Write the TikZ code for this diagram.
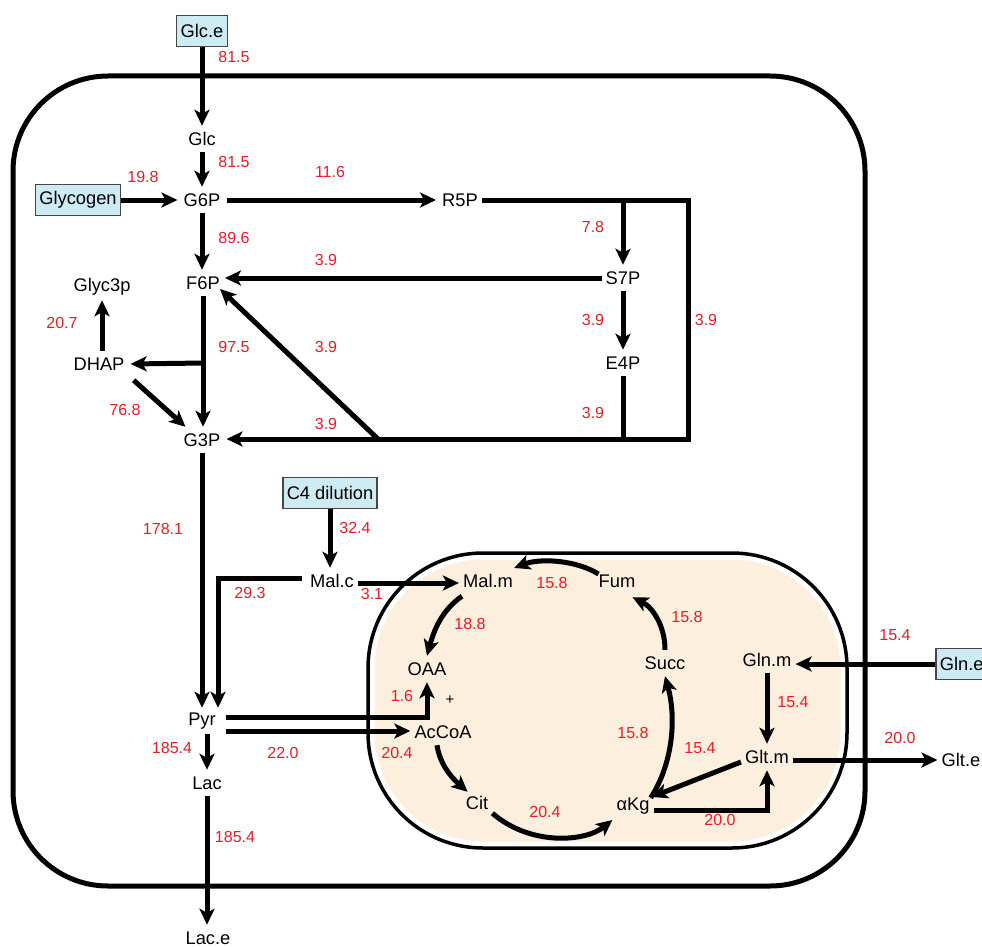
\documentclass[tikz,border=0pt]{standalone}
\usepackage{fontspec}
\setmainfont{Liberation Sans}
\usetikzlibrary{arrows.meta,calc}
\definecolor{fluxred}{RGB}{237,28,36}
\definecolor{boxblue}{RGB}{205,235,243}
\definecolor{boxgray}{RGB}{70,70,70}
\definecolor{mitofill}{RGB}{253,239,222}
\tikzset{
  met/.style={font=\fontsize{18.3}{20}\selectfont, inner xsep=4pt, inner ysep=0pt, minimum height=26pt},
  extbox/.style={draw=boxgray, fill=boxblue, line width=1.5pt, font=\fontsize{18.3}{20}\selectfont, inner xsep=4pt, inner ysep=0pt, minimum height=31pt},
  flux/.style={text=fluxred, font=\fontsize{16}{18}\selectfont, inner sep=0pt},
  arr/.style={line width=5pt, -{Stealth[length=16pt, width=15pt, inset=4pt]}},
  plainline/.style={line width=5pt},
}
\begin{document}
\begin{tikzpicture}[x=1pt,y=-1pt]
\useasboundingbox (0,0) rectangle (982,947);
% cell and mitochondrion
\draw[line width=5pt, rounded corners=95pt] (13,76) rectangle (865,886);
\draw[line width=3.5pt, rounded corners=115pt] (368,553) rectangle (847,848);
\fill[mitofill, rounded corners=109pt] (374.5,559.5) rectangle (840.5,841.5);

% nodes
\node[extbox] (glce) at (202,31) {Glc.e};
\node[met] (glc) at (202,139) {Glc};
\node[met] (g6p) at (202,200) {G6P};
\node[extbox] (glycogen) at (78,200) {Glycogen};
\node[met] (r5p) at (460,200) {R5P};
\node[met] (s7p) at (623,278) {S7P};
\node[met] (f6p) at (203,283) {F6P};
\node[met] (glyc3p) at (102,287) {Glyc3p};
\node[met] (dhap) at (99,364) {DHAP};
\node[met] (e4p) at (623,363) {E4P};
\node[met] (g3p) at (202,440) {G3P};
\node[extbox] (c4) at (330,493) {C4 dilution};
\node[met] (malc) at (332,581) {Mal.c};
\node[met] (malm) at (488,581) {Mal.m};
\node[met] (fum) at (617,581) {Fum};
\node[met] (oaa) at (427,669) {OAA};
\node[met] (succ) at (665,663) {Succ};
\node[met] (glnm) at (767,660) {Gln.m};
\node[extbox, anchor=west, inner xsep=3pt, minimum width=52pt] (glne) at (935,664) {Gln.e};
\node[met] (pyr) at (202,721) {Pyr};
\node[met] (accoa) at (443,732) {AcCoA};
\node[met] (gltm) at (767,757) {Glt.m};
\node[met] (glte) at (961,760) {Glt.e};
\node[met] (lac) at (207,783) {Lac};
\node[met] (cit) at (477,803) {Cit};
\node[met] (akg) at (633,806) {αKg};
\node[met] (lace) at (208,938) {Lac.e};
\node[font=\fontsize{15}{16}\selectfont] (plus) at (450,700) {+};

% junction coordinates
\coordinate (rc) at (688,200);
\coordinate (rb) at (688,439);
\coordinate (br1) at (623,200);
\coordinate (dj) at (378,439);
\coordinate (fj) at (203,363);
\coordinate (sf) at (0,278);
\coordinate (gg) at (0,760);

% glycolysis
\draw[arr] (glce.south) -- (glc.north);
\draw[arr] (glc.south) -- (g6p.north);
\draw[arr] (glycogen.east) -- ($(g6p.west)+(-2,0)$);
\draw[arr] ($(g6p.east)+(2,0)$) -- ($(r5p.west)+(-2,0)$);
\draw[arr] (g6p.south) -- (f6p.north -| g6p.south);
\draw[arr] (r5p.east) -- (rc) -- (rb) -- ($(g3p.east |- rb)+(2,0)$);
\draw[arr] (br1) -- (s7p.north);
\draw[arr] (s7p.west |- sf) -- ($(f6p.east |- sf)+(1,0)$);
\draw[arr] (s7p.south) -- (e4p.north);
\draw[plainline] (e4p.south) -- (e4p.south |- rb);
\draw[arr] (dj) -- ($(f6p.east)+(-4,6)$);
\draw[arr] (f6p.south) -- (g3p.north -| f6p.south);
\draw[arr] (fj) -- ($(dhap.east)+(2,0)$);
\draw[arr] (dhap.north -| glyc3p) -- (glyc3p.south);
\draw[arr] ($(dhap.south east)+(5,3)$) -- ($(g3p.north west)+(6,0)$);
\draw[arr] (g3p.south) -- (pyr.north);
\draw[arr] ($(malc.west)+(-4,-3)$) -| ($(pyr.north)+(16,0)$);
\draw[arr] (c4.south) -- (malc.north -| c4.south);
\draw[arr] ($(malc.east)+(0,2)$) -- ($(malm.west)+(0,2)$);
\draw[arr] ($(pyr.east)+(6,-4)$) -| (oaa.south);
\draw[arr] ($(pyr.east)+(6,10)$) -- ($(accoa.west)+(0,-1)$);
\draw[arr] (pyr.south -| lac.north) -- (lac.north);
\draw[arr] (lac.south) -- (lace.north -| lac.south);

% TCA cycle
\draw[arr] ($(malm.south)+(-26,2)$) .. controls (442,610) and (434,630) .. (oaa.north);
\draw[arr] ($(fum.west)+(4,-7)$) .. controls (576,560) and (540,558) .. ($(malm.east)+(-3,-13)$);
\draw[arr] (succ.north) .. controls (665,625) and (652,607) .. ($(fum.south east)+(-7,3)$);
\draw[arr] ($(akg.north east)+(-3,5)$) .. controls (672,765) and (677,720) .. (succ.south);
\draw[arr] ($(accoa.south)+(-6,0)$) .. controls (440,765) and (452,778) .. ($(cit.north west)+(6,2)$);
\draw[arr] ($(cit.south east)+(0,-3)$) .. controls (530,846) and (585,842) .. ($(akg.west)+(0,14)$);

% glutamine / glutamate
\draw[arr] (glne.west) -- (glnm.east |- glne.west);
\draw[arr] (glnm.south) -- (gltm.north);
\draw[arr] ($(gltm.west)+(0,5)$) -- ($(akg.east)+(-2,-9)$);
\draw[arr] ($(akg.east)+(0,4)$) -| (gltm.south);
\draw[arr] (gltm.east |- gg) -- (glte.west |- gg);

% flux labels
\node[flux] at (234,57) {81.5};
\node[flux] at (234,162) {81.5};
\node[flux] at (143,177) {19.8};
\node[flux] at (330,172) {11.6};
\node[flux] at (234,238) {89.6};
\node[flux] at (593,227) {7.8};
\node[flux] at (326,260) {3.9};
\node[flux] at (593,320) {3.9};
\node[flux] at (706,320) {3.9};
\node[flux] at (593,413) {3.9};
\node[flux] at (62,323) {20.7};
\node[flux] at (234,347) {97.5};
\node[flux] at (326,347) {3.9};
\node[flux] at (125,410) {76.8};
\node[flux] at (326,424) {3.9};
\node[flux] at (163,529) {178.1};
\node[flux] at (355,528) {32.4};
\node[flux] at (250,593) {29.3};
\node[flux] at (372,594) {3.1};
\node[flux] at (470,624) {18.8};
\node[flux] at (552,583) {15.8};
\node[flux] at (687,617) {15.8};
\node[flux] at (402,696) {1.6};
\node[flux] at (172,748) {185.4};
\node[flux] at (283,753) {22.0};
\node[flux] at (397,753) {20.4};
\node[flux] at (633,733) {15.8};
\node[flux] at (545,812) {20.4};
\node[flux] at (895,635) {15.4};
\node[flux] at (793,702) {15.4};
\node[flux] at (700,748) {15.4};
\node[flux] at (900,738) {20.0};
\node[flux] at (720,820) {20.0};
\node[flux] at (235,837) {185.4};
\end{tikzpicture}
\end{document}
